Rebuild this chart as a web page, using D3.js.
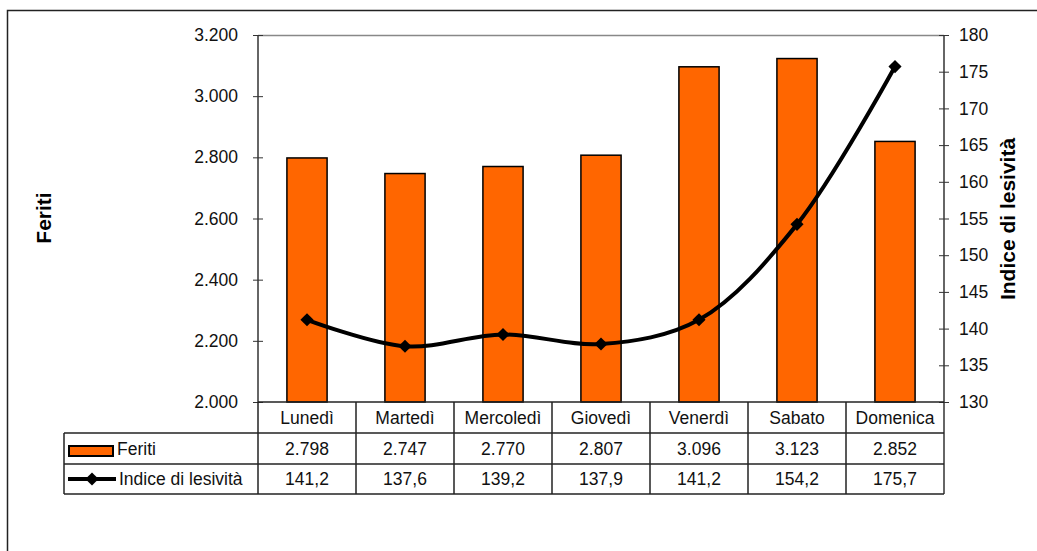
<!DOCTYPE html>
<html>
<head>
<meta charset="utf-8">
<script src="https://cdn.jsdelivr.net/npm/d3@7"></script>
<style>
  html, body { margin: 0; padding: 0; background: #fff; }
  svg { display: block; font-family: "Liberation Sans", Arial, sans-serif; }
</style>
</head>
<body>
<svg id="chart" width="1037" height="551"></svg>
<script>
// Giorni della settimana
const days = ["Lunedì", "Martedì", "Mercoledì", "Giovedì", "Venerdì", "Sabato", "Domenica"];
// Feriti per giorno
const feriti = [2798, 2747, 2770, 2807, 3096, 3123, 2852];
// Indice di lesività per giorno
const indice = [141.2, 137.6, 139.2, 137.9, 141.2, 154.2, 175.7];
// Tacche degli assi
const leftTicks = [2000, 2200, 2400, 2600, 2800, 3000, 3200];
const rightTicks = [130, 135, 140, 145, 150, 155, 160, 165, 170, 175, 180];
const seriesNames = ["Feriti", "Indice di lesività"];

const it = d3.formatLocale({ decimal: ",", thousands: ".", grouping: [3], currency: ["€", ""] });
const fmtInt = it.format(",d");
const fmtDec = it.format(",.1f");

const FS = 17.5;
const svg = d3.select("#chart");
const plot = { left: 258, right: 944, top: 35, bottom: 402 };
const rowH = [31, 31, 30];
const tableLeft = 64;

const x = d3.scaleBand().domain(days).range([plot.left, plot.right]).paddingInner(0.59).paddingOuter(0.295);
const xCell = d3.scaleBand().domain(days).range([plot.left, plot.right]);
const yL = d3.scaleLinear().domain([2000, 3200]).range([plot.bottom, plot.top]);
const yR = d3.scaleLinear().domain([130, 180]).range([plot.bottom, plot.top]);

// Cornice esterna
svg.append("rect")
  .attr("x", 7.5).attr("y", 10.5).attr("width", 1040).attr("height", 560)
  .attr("fill", "none").attr("stroke", "#222").attr("stroke-width", 1.5);

// Bordo superiore dell'area del grafico
svg.append("line")
  .attr("x1", plot.left).attr("x2", plot.right)
  .attr("y1", plot.top + 0.5).attr("y2", plot.top + 0.5)
  .attr("stroke", "#888").attr("stroke-width", 1.5);

// Barre Feriti
svg.append("g").selectAll("rect").data(days).join("rect")
  .attr("x", d => x(d))
  .attr("y", (d, i) => yL(feriti[i]))
  .attr("width", x.bandwidth())
  .attr("height", (d, i) => plot.bottom - yL(feriti[i]))
  .attr("fill", "#FF6600")
  .attr("stroke", "#000").attr("stroke-width", 1.5);

// Asse sinistro
const axL = svg.append("g").attr("transform", `translate(${plot.left},0)`)
  .call(d3.axisLeft(yL).tickValues(leftTicks).tickFormat(fmtInt).tickSize(5).tickPadding(15));
axL.select(".domain").remove();
axL.selectAll(".tick line").attr("x1", 5).attr("x2", -5).attr("stroke", "#333");
axL.append("line").attr("y1", plot.top).attr("y2", plot.bottom).attr("stroke", "#333").attr("stroke-width", 1.5);

// Asse destro
const axR = svg.append("g").attr("transform", `translate(${plot.right},0)`)
  .call(d3.axisRight(yR).tickValues(rightTicks).tickSize(5).tickPadding(10));
axR.select(".domain").remove();
axR.selectAll(".tick line").attr("x1", -5).attr("x2", 5).attr("stroke", "#333");
axR.append("line").attr("y1", plot.top).attr("y2", plot.bottom + rowH[0] + rowH[1] + rowH[2]).attr("stroke", "#333").attr("stroke-width", 1.5);

[axL, axR].forEach(a => a.selectAll(".tick text")
  .attr("font-family", "Liberation Sans, Arial, sans-serif")
  .attr("font-size", FS).attr("fill", "#111"));

// Linea Indice di lesività
const cx = d => x(d) + x.bandwidth() / 2;
const line = d3.line().x((v, i) => cx(days[i])).y(v => yR(v)).curve(d3.curveCatmullRom.alpha(0.5));
svg.append("path").datum(indice)
  .attr("d", line).attr("fill", "none").attr("stroke", "#000").attr("stroke-width", 4)
  .attr("stroke-linejoin", "round");
const diamond = d3.symbol().type(d3.symbolDiamond2).size(110);
svg.append("g").selectAll("path").data(indice).join("path")
  .attr("d", diamond)
  .attr("transform", (v, i) => `translate(${cx(days[i])},${yR(v)})`)
  .attr("fill", "#000");

// Titoli degli assi
svg.append("text")
  .attr("transform", "translate(51,218) rotate(-90)")
  .attr("text-anchor", "middle").attr("font-size", 21).attr("font-weight", "bold")
  .text("Feriti");
svg.append("text")
  .attr("transform", "translate(1015,219) rotate(-90)")
  .attr("text-anchor", "middle").attr("font-size", 21).attr("font-weight", "bold")
  .text("Indice di lesività");

// Tabella dati
const tbl = svg.append("g");
const yRow0 = plot.bottom;
const yRow1 = yRow0 + rowH[0];
const yRow2 = yRow1 + rowH[1];
const yRow3 = yRow2 + rowH[2];
const lineColor = "#222";

// Linee orizzontali
tbl.append("line").attr("x1", plot.left).attr("x2", plot.right).attr("y1", yRow0).attr("y2", yRow0).attr("stroke", lineColor).attr("stroke-width", 1.5);
[yRow1, yRow2, yRow3].forEach(yy => tbl.append("line")
  .attr("x1", tableLeft).attr("x2", plot.right).attr("y1", yy).attr("y2", yy)
  .attr("stroke", lineColor).attr("stroke-width", 1.5));
// Linee verticali
tbl.append("line").attr("x1", tableLeft).attr("x2", tableLeft).attr("y1", yRow1).attr("y2", yRow3).attr("stroke", lineColor).attr("stroke-width", 1.5);
days.forEach(d => tbl.append("line")
  .attr("x1", xCell(d)).attr("x2", xCell(d)).attr("y1", yRow0).attr("y2", yRow3)
  .attr("stroke", lineColor).attr("stroke-width", 1.5));

const cellText = (txt, xx, yy) => tbl.append("text")
  .attr("x", xx).attr("y", yy).attr("text-anchor", "middle")
  .attr("font-size", FS).attr("fill", "#111").text(txt);
days.forEach((d, i) => {
  const c = xCell(d) + xCell.bandwidth() / 2;
  cellText(d, c, yRow0 + 22);
  cellText(fmtInt(feriti[i]), c, yRow1 + 22);
  cellText(fmtDec(indice[i]), c, yRow2 + 21);
});

// Legenda nella tabella
tbl.append("rect").attr("x", 69).attr("y", 446).attr("width", 44).attr("height", 10)
  .attr("fill", "#FF6600").attr("stroke", "#000").attr("stroke-width", 2);
tbl.append("text").attr("x", 117).attr("y", yRow1 + 22).attr("font-size", FS).attr("fill", "#111").text(seriesNames[0]);
tbl.append("line").attr("x1", 68).attr("x2", 116).attr("y1", 479).attr("y2", 479)
  .attr("stroke", "#000").attr("stroke-width", 4);
tbl.append("path").attr("d", diamond).attr("transform", "translate(92,479)").attr("fill", "#000");
tbl.append("text").attr("x", 119).attr("y", yRow2 + 21).attr("font-size", FS).attr("fill", "#111").text(seriesNames[1]);
</script>
</body>
</html>
